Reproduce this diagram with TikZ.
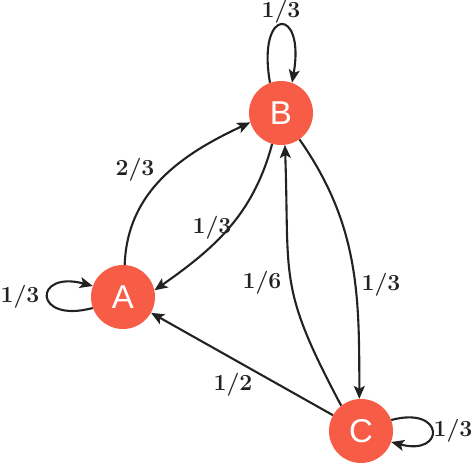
\documentclass[tikz,border=0pt]{standalone}
\usepackage{fontspec}
\newfontfamily\nodefont{Liberation Sans}
\usetikzlibrary{arrows.meta}
\definecolor{nodered}{HTML}{F75C46}
\definecolor{edgecol}{HTML}{222222}
\begin{document}
\begin{tikzpicture}[x=1pt,y=1pt,
  state/.style={circle,fill=nodered,minimum size=64pt,inner sep=0pt,text=white,font=\nodefont\fontsize{33}{33}\selectfont},
  edge/.style={draw=edgecol,line width=2.1pt,-{Stealth[length=13pt,width=11pt,inset=3pt]}},
  lbl/.style={text=edgecol,inner sep=0pt,font=\fontsize{23}{23}\selectfont\bfseries}]
\useasboundingbox (0,0) rectangle (474,463);
\node[state] (A) at (123,166) {A};
\node[state] (B) at (281,350) {B};
\node[state] (C) at (361,32) {C};
% edges
\draw[edge] (A.87) to[out=88,in=205] (B.197);
\draw[edge] (B.254) to[out=255,in=35] (A.12);
\draw[edge] (B.305) to[out=-55,in=90] (C.93);
\draw[edge] (C.128) to[out=118,in=-88,looseness=1.3] (B.277);
\draw[edge] (C) -- (A);
% loops
\draw[edge] (B.110) .. controls +(100:78) and +(80:78) .. (B.70);
\draw[edge] (A.200) .. controls +(195:62) and +(165:62) .. (A.160);
\draw[edge] (C.20) .. controls +(15:56) and +(-15:56) .. (C.-20);
% labels
\node[lbl] (lB) at (281,451) {1/3};
\node[lbl] (lA) at (20,166) {1/3};
\node[lbl] (lC) at (453,32) {1/3};
\node[lbl] (lAB) at (135,293) {2/3};
\node[lbl] (lBA) at (212,235) {1/3};
\node[lbl] (lBC) at (381,178) {1/3};
\node[lbl] (lCB) at (262,180) {1/6};
\node[lbl] (lCA) at (233,78) {1/2};
\end{tikzpicture}
\end{document}
